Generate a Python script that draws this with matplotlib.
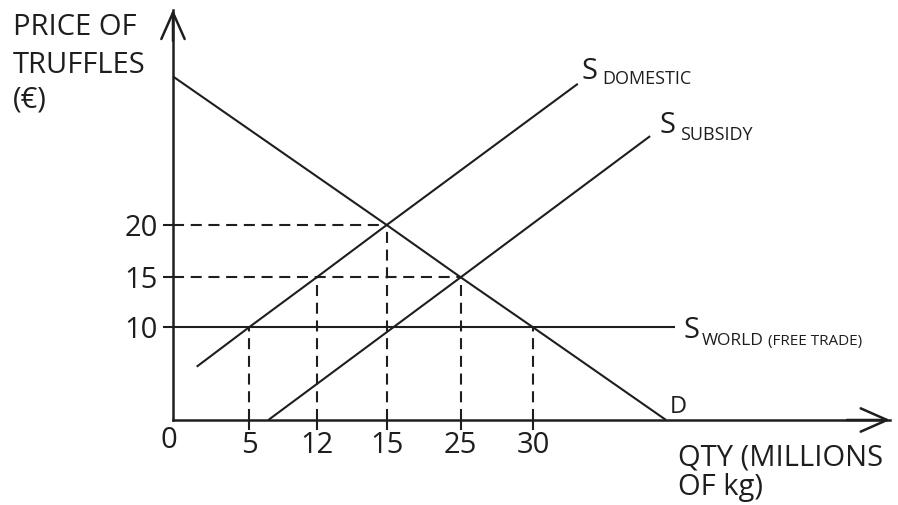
"""
Truffle market: domestic supply, subsidised supply and world price.
Schematic diagram (axes not to scale) redrawn with matplotlib.
"""

import matplotlib
matplotlib.use("Agg")
import matplotlib.pyplot as plt
import numpy as np

# ---- data ----
qty_ticks = [5, 12, 15, 25, 30]
price_ticks = [10, 15, 20]

demand_q = [0, 15, 25, 30, 39.2]
demand_p = [34.2, 20, 15, 10, 0]

s_domestic_q = [1.56, 5, 12, 15, 33.1]
s_domestic_p = [5.75, 10, 15, 20, 33.5]

s_subsidy_q = [7.0, 25, 38.1]
s_subsidy_p = [0, 15, 28.5]

s_world_q = [0, 39.8]
s_world_p = [10, 10]

# dashed guides: (qty, price) points projected onto both axes
guide_h = [(15, 20), (25, 15)]
guide_v = [(5, 10), (12, 15), (15, 20), (25, 15), (30, 10)]

q_max, p_max = 54.7, 40.6

INK = "#1e1e1e"
FONT = ["Open Sans", "DejaVu Sans"]
W, H = 898, 505


def piecewise_scale(vals, pos):
    """Forward/inverse functions for a piecewise-linear (not-to-scale) axis."""
    vals = np.asarray(vals, float)
    pos = np.asarray(pos, float)

    def _map(v, a, b):
        v = np.asarray(v, float)
        out = np.interp(v, a, b)
        lo = (b[1] - b[0]) / (a[1] - a[0])
        hi = (b[-1] - b[-2]) / (a[-1] - a[-2])
        out = np.where(v < a[0], b[0] + (v - a[0]) * lo, out)
        out = np.where(v > a[-1], b[-1] + (v - a[-1]) * hi, out)
        return out

    return (lambda v: _map(v, vals, pos)), (lambda v: _map(v, pos, vals))


plt.rcParams["font.family"] = FONT

fig = plt.figure(figsize=(W / 100, H / 100), dpi=100)
ax = fig.add_axes([0, 0, 1, 1])
ax.set_facecolor("none")

# axis positions in figure pixels (diagram is not drawn to scale)
fx, ix = piecewise_scale([0] + qty_ticks, [173, 249, 316.7, 386.7, 460.7, 533])
fy, iy = piecewise_scale([0] + price_ticks, [85, 177.7, 227.7, 280])
ax.set_xscale("function", functions=(fx, ix))
ax.set_yscale("function", functions=(fy, iy))
ax.set_xlim(float(ix(0)), float(ix(W)))
ax.set_ylim(float(iy(0)), float(iy(H)))

# axes with open arrow heads
for side in ["top", "right"]:
    ax.spines[side].set_visible(False)
ax.spines["left"].set_position(("data", 0))
ax.spines["bottom"].set_position(("data", 0))
ax.spines["left"].set_bounds(0, p_max)
ax.spines["bottom"].set_bounds(0, q_max)
for side in ["left", "bottom"]:
    ax.spines[side].set_linewidth(1.8)
    ax.spines[side].set_color(INK)
arrow = dict(arrowstyle="->,head_length=0.95,head_width=0.42", color=INK,
             lw=1.8, mutation_scale=20, shrinkA=0, shrinkB=0)
ax.annotate("", xy=(0, p_max), xytext=(0, p_max - 3), arrowprops=arrow)
ax.annotate("", xy=(q_max, 0), xytext=(q_max - 3, 0), arrowprops=arrow)

ax.set_xticks(qty_ticks)
ax.set_xticklabels([str(q) for q in qty_ticks])
ax.set_yticks(price_ticks)
ax.set_yticklabels([str(p) for p in price_ticks])
ax.tick_params(axis="both", direction="out", length=7, width=1.5, color=INK,
               labelsize=21, labelcolor=INK)
ax.tick_params(axis="x", pad=1)
ax.tick_params(axis="y", pad=4)
ax.annotate("0", xy=(0, 0), xytext=(-4, -21), textcoords="offset pixels",
            ha="center", va="center", fontsize=21, color=INK)

# curves
for q, p in [(demand_q, demand_p), (s_domestic_q, s_domestic_p),
             (s_subsidy_q, s_subsidy_p), (s_world_q, s_world_p)]:
    ax.plot(q, p, color=INK, lw=1.5, solid_capstyle="butt")

# dashed guide lines
dash = dict(color=INK, lw=1.5, dashes=(5.3, 3.2))
for q, p in guide_h:
    ax.plot([0, q], [p, p], **dash)
for q, p in guide_v:
    ax.plot([q, q], [0, p], **dash)


# curve labels, anchored to the end of each line
def label(xy, text, dx, dy, size):
    ax.annotate(text, xy=xy, xytext=(dx, dy), textcoords="offset pixels",
                fontsize=size, color=INK, ha="left", va="baseline")


end_dom = (s_domestic_q[-1], s_domestic_p[-1])
end_sub = (s_subsidy_q[-1], s_subsidy_p[-1])
end_wld = (s_world_q[-1], s_world_p[-1])
label(end_dom, "S", 4, 5, 21)
label(end_dom, "DOMESTIC", 24, 0, 13)
label(end_sub, "S", 9, 3, 21)
label(end_sub, "SUBSIDY", 30, -4, 13)
label(end_wld, "S", 9, -11, 21)
label(end_wld, "WORLD", 27, -17.7, 12.5)
label(end_wld, "(FREE TRADE)", 93, -17.7, 11)
label((demand_q[-1], demand_p[-1]), "D", 4, 7, 17)

# axis titles
fig.text(13 / W, 1 - 35 / H, "PRICE OF", fontsize=21, color=INK, va="baseline")
fig.text(13 / W, 1 - 73 / H, "TRUFFLES", fontsize=21, color=INK, va="baseline")
fig.text(13 / W, 1 - 107 / H, "(€)", fontsize=21, color=INK, va="baseline")
fig.text(678 / W, 1 - 465 / H, "QTY (MILLIONS", fontsize=21, color=INK, va="baseline")
fig.text(678 / W, 1 - 495 / H, "OF kg)", fontsize=21, color=INK, va="baseline")

fig.savefig("out.png", dpi=100, facecolor="white")
